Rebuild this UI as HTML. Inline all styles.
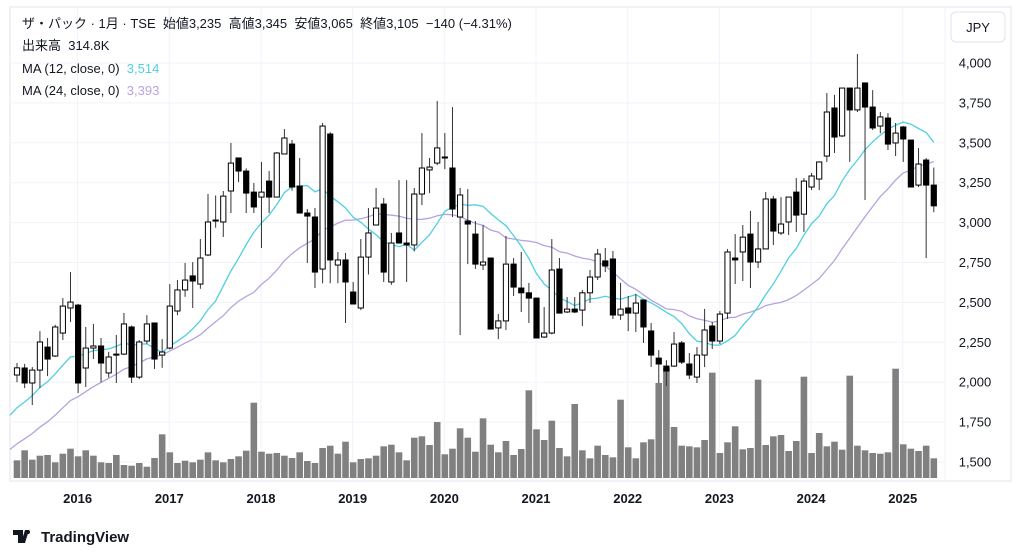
<!DOCTYPE html>
<html><head><meta charset="utf-8">
<style>
html,body{margin:0;padding:0;background:#fff;width:1024px;height:558px;overflow:hidden;}
svg{display:block;font-family:"Liberation Sans","Noto Sans CJK JP",sans-serif;}
</style></head>
<body>
<svg id="chart" width="1024" height="558" viewBox="0 0 1024 558">
  <rect x="10" y="7" width="1001" height="474" fill="#fff" stroke="#e0e3eb" stroke-width="1"/>
  <line x1="945" y1="7" x2="945" y2="481" stroke="#f0f3fa"/>
  <g id="grid"></g>
  <g id="vol"></g>
  <g id="ma"></g>
  <g id="candles"></g>
  <g id="yaxis"></g>
  <g id="xaxis"></g>
  <g font-size="13" fill="#131722">
    <text x="22" y="28">ザ・パック · 1月 · TSE&#160; 始値3,235&#160; 高値3,345&#160; 安値3,065&#160; 終値3,105&#160; −140 (−4.31%)</text>
    <text x="22" y="50">出来高&#160; 314.8K</text>
    <text x="22" y="73">MA (12, close, 0)&#160; <tspan fill="#4fd0e0">3,514</tspan></text>
    <text x="22" y="95">MA (24, close, 0)&#160; <tspan fill="#b7a2e0">3,393</tspan></text>
  </g>
  <g>
    <rect x="951" y="12" width="54" height="30" rx="5" fill="#fff" stroke="#e0e3eb"/>
    <text x="978" y="32" text-anchor="middle" font-size="13" fill="#131722">JPY</text>
  </g>
  <g>
    <path d="M13 530h10v13h-5v-8h-5z M25 530h4l-4 13h-4z" fill="#131722"/>
    <circle cx="28" cy="532" r="2" fill="#131722"/>
    <text x="41" y="542" font-size="15" font-weight="bold" fill="#131722">TradingView</text>
  </g>
</svg>
<script>
const prior = [1230,1250,1280,1300,1320,1350,1380,1400,1430,1450,1480,1500,1520,1560,1600,1650,1700,1760,1820,1880,1940,1990,2030,2060];
const opens = [2045,2089,1995,2076,2220,2164,2308,2465,2483,2089,2214,2227,2058,2170,2176,2346,2032,2258,2371,2170,2214,2446,2578,2666,2615,2797,3016,3004,3198,3405,3323,3191,3160,3260,3160,3430,3492,3229,3060,3035,2709,3555,2734,2766,2565,2465,2784,2985,3116,2628,2935,2872,2860,3179,3330,3373,3411,3342,3035,3010,2928,2734,2778,2340,2384,2740,2590,2560,2527,2283,2308,2709,2440,2458,2452,2560,2659,2760,2772,2421,2465,2433,2515,2321,2151,2101,2101,2246,2114,2032,2170,2352,2258,2433,2778,2816,2928,2753,2835,3148,2935,3004,3191,3053,3223,3273,3417,3718,3543,3843,3706,3875,3724,3605,3655,3499,3599,3517,3235,3392,3235];
const highs = [2120,2115,2095,2320,2277,2360,2527,2690,2490,2346,2365,2277,2190,2296,2434,2355,2264,2420,2371,2270,2615,2640,2747,2753,2897,3179,3170,3198,3499,3405,3340,3248,3380,3323,3442,3586,3518,3405,3085,3092,3624,3567,2816,2810,2628,2897,3091,3217,3154,2935,3266,3266,3217,3561,3405,3762,3561,3724,3217,3210,3010,2985,2778,2427,2916,2778,2816,2622,2527,2471,2897,2778,2534,2534,2578,2703,2835,2841,2822,2622,2540,2553,2515,2371,2201,2138,2314,2258,2183,2220,2459,2377,2446,2835,2928,2985,3073,3004,3192,3167,3160,3160,3279,3279,3311,3380,3812,3800,3843,3843,4056,3875,3830,3693,3686,3624,3605,3517,3467,3405,3345];
const lows = [2000,1963,1857,1963,2038,2158,2264,2377,1932,1970,2145,2000,2030,1995,2170,1995,2020,2240,2083,2090,2205,2420,2535,2465,2585,2790,2968,2910,3060,3254,3060,3060,2841,3060,3160,3430,3200,3060,2747,2590,2620,2620,2620,2371,2490,2452,2675,2985,2628,2610,2870,2628,2820,3110,3185,3360,3335,3035,2296,2740,2710,2703,2333,2270,2327,2540,2440,2371,2277,2277,2300,2433,2433,2433,2352,2496,2640,2690,2396,2390,2320,2314,2246,2095,1995,1976,2095,2114,2020,1995,2095,2208,2239,2396,2615,2634,2590,2715,2835,2860,2922,2922,2941,2941,3204,3204,3380,3436,3536,3380,3693,3142,3580,3560,3455,3417,3380,3223,3223,2778,3065];
const closes = [2090,1995,2076,2252,2145,2346,2477,2502,1995,2214,2227,2120,2158,2176,2365,2032,2252,2365,2145,2189,2477,2578,2640,2634,2778,3004,3010,3166,3373,3323,3185,3098,3191,3160,3436,3530,3223,3060,3041,2690,3605,2766,2766,2628,2490,2784,2935,3091,2690,2872,2872,2860,3179,3342,3348,3468,3411,3085,3173,2991,2740,2753,2333,2384,2740,2596,2560,2527,2277,2308,2703,2433,2458,2440,2560,2659,2803,2728,2421,2458,2433,2496,2346,2170,2114,2070,2239,2126,2045,2170,2327,2258,2427,2816,2766,2909,2753,2835,3148,2947,2991,3160,3047,3260,3292,3380,3693,3536,3843,3706,3843,3724,3593,3662,3492,3561,3524,3223,3367,3235,3105];
const volumes = [283,443,293,357,368,251,389,469,347,443,357,251,240,368,208,197,240,181,320,699,411,240,277,251,293,411,283,251,304,347,437,1205,421,389,400,357,320,411,272,240,480,517,389,581,251,304,315,357,507,533,411,283,645,667,528,896,379,469,795,645,421,955,533,411,592,368,464,1403,779,608,917,480,347,1184,443,315,517,368,331,1253,491,315,571,619,1520,1760,816,517,507,491,608,1685,400,571,827,459,480,1573,528,667,688,432,592,1621,400,720,507,581,453,1637,517,443,400,389,411,1749,539,469,432,517,315];
const priceTicks = [4000,3750,3500,3250,3000,2750,2500,2250,2000,1750,1500];
const priceTickLabels = ["4,000","3,750","3,500","3,250","3,000","2,750","2,500","2,250","2,000","1,750","1,500"];
const yearLabels = ["2016","2017","2018","2019","2020","2021","2022","2023","2024","2025"];
const yearStartIndex = [8,20,32,44,56,68,80,92,104,116];

const NS = "http://www.w3.org/2000/svg";
const X0 = 17, DX = 7.64;
function xScale(i){ return X0 + DX*i; }
function yScale(p){ return 63 + (4000 - p)*0.1596; }
const VOL_BASE = 478;
function vScale(v){ return v/16; }
function mk(tag, attrs, parent){ const e=document.createElementNS(NS,tag); for(const k in attrs) e.setAttribute(k,attrs[k]); parent.appendChild(e); return e; }

const grid = document.getElementById('grid');
const yaxis = document.getElementById('yaxis');
priceTicks.forEach((p,k)=>{
  const y = yScale(p);
  const gl = mk('line',{x1:10,x2:945,y1:y,y2:y,stroke:'#f0f3fa','stroke-width':1},grid);
  
  
  const t = mk('text',{x:975,y:y+4.5,'text-anchor':'middle','font-size':13,fill:'#131722'},yaxis);
  t.textContent = priceTickLabels[k];
  
  
});
const xaxis = document.getElementById('xaxis');
yearLabels.forEach((lab,k)=>{
  const x = xScale(yearStartIndex[k]) - 0.5;
  const gl = mk('line',{x1:x,x2:x,y1:7,y2:481,stroke:'#f0f3fa','stroke-width':1},grid);
  
  
  const t = mk('text',{x:x,y:503,'text-anchor':'middle','font-size':13,'font-weight':'bold',fill:'#131722'},xaxis);
  t.textContent = lab;
  
  
});

const vol = document.getElementById('vol');
volumes.forEach((v,i)=>{
  const h = vScale(v);
  const r = mk('rect',{x:xScale(i)-3.3,y:VOL_BASE-h,width:6.6,height:h,fill:'#808080'},vol);
  
  
});

const all = prior.concat(closes);
function ma(n){
  const pts=[];
  for(let j=prior.length-1;j<all.length;j++){
    if(j-n+1<0) continue;
    let s=0; for(let k=j-n+1;k<=j;k++) s+=all[k];
    const i=j-prior.length;
    pts.push([i===-1?10:xScale(i), yScale(s/n)]);
  }
  return pts.map(p=>p[0].toFixed(1)+','+p[1].toFixed(1)).join(' ');
}
const maG = document.getElementById('ma');
const m24 = mk('polyline',{points:ma(24),fill:'none',stroke:'#b7a2e0','stroke-width':1.3},maG);


const m12 = mk('polyline',{points:ma(12),fill:'none',stroke:'#4fd0e0','stroke-width':1.3},maG);



const cg = document.getElementById('candles');
closes.forEach((c,i)=>{
  const o=opens[i], x=xScale(i);
  const w = mk('line',{x1:x,x2:x,y1:yScale(highs[i]),y2:yScale(lows[i]),stroke:'#333','stroke-width':1},cg);
  
  
  const top=yScale(Math.max(o,c)), bot=yScale(Math.min(o,c));
  const up = c>=o;
  const b = mk('rect',{x:x-2.6,y:top,width:5.2,height:Math.max(1,bot-top),fill:up?'#fff':'#000',stroke:'#000','stroke-width':1},cg);
  
  
});
</script>
</body></html>
